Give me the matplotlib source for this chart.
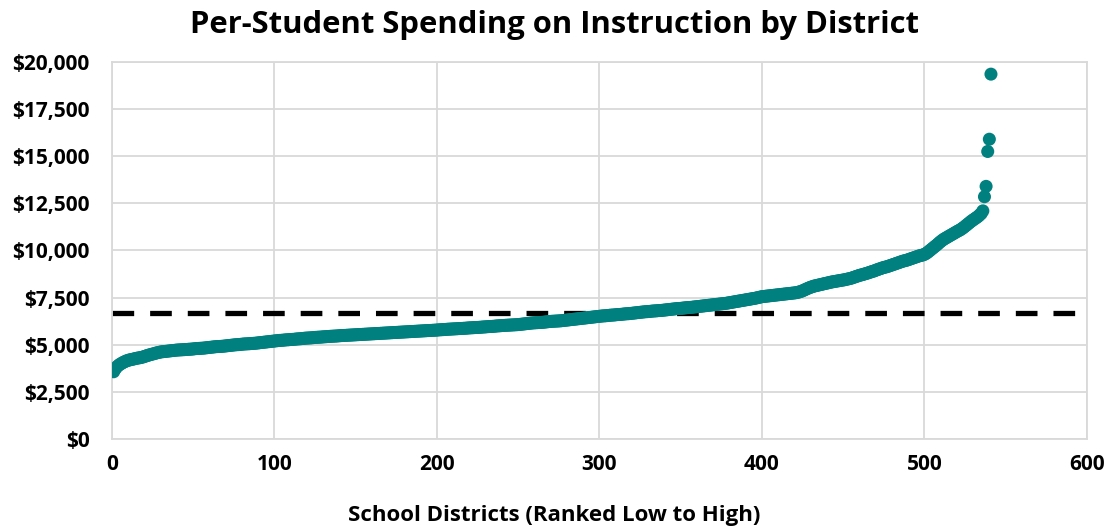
import numpy as np
import matplotlib
matplotlib.use("Agg")
import matplotlib.pyplot as plt
from matplotlib.ticker import FuncFormatter, MultipleLocator

# === データ（順位順の1人当たり教育支出） ===
spending = [
    3570, 3720, 3830, 3910, 3970, 4020, 4070, 4110, 4150, 4180,
    4200, 4220, 4240, 4260, 4280, 4300, 4310, 4330, 4350, 4380,
    4410, 4440, 4460, 4490, 4510, 4530, 4560, 4580, 4600, 4620,
    4630, 4640, 4650, 4660, 4670, 4680, 4690, 4700, 4710, 4720,
    4725, 4730, 4735, 4740, 4745, 4750, 4760, 4765, 4770, 4780,
    4790, 4800, 4805, 4810, 4815, 4820, 4830, 4840, 4850, 4860,
    4870, 4880, 4890, 4900, 4905, 4910, 4915, 4920, 4930, 4940,
    4950, 4960, 4970, 4980, 4990, 5000, 5005, 5010, 5020, 5030,
    5040, 5045, 5050, 5055, 5060, 5070, 5075, 5080, 5090, 5100,
    5110, 5120, 5130, 5140, 5150, 5160, 5170, 5180, 5190, 5200,
    5210, 5220, 5230, 5235, 5240, 5250, 5260, 5265, 5270, 5280,
    5285, 5290, 5300, 5310, 5315, 5320, 5330, 5340, 5350, 5355,
    5360, 5365, 5370, 5380, 5390, 5395, 5400, 5405, 5410, 5420,
    5425, 5430, 5440, 5445, 5450, 5455, 5460, 5465, 5470, 5480,
    5485, 5490, 5495, 5500, 5505, 5510, 5515, 5520, 5525, 5530,
    5535, 5540, 5545, 5550, 5555, 5560, 5565, 5570, 5575, 5580,
    5585, 5590, 5595, 5600, 5605, 5610, 5615, 5620, 5625, 5630,
    5635, 5640, 5645, 5650, 5655, 5660, 5665, 5670, 5675, 5680,
    5685, 5690, 5695, 5700, 5705, 5710, 5715, 5720, 5725, 5730,
    5735, 5740, 5745, 5750, 5755, 5760, 5765, 5770, 5775, 5780,
    5790, 5795, 5800, 5805, 5810, 5820, 5825, 5830, 5835, 5840,
    5845, 5850, 5855, 5860, 5865, 5870, 5875, 5880, 5890, 5895,
    5900, 5905, 5910, 5915, 5920, 5925, 5930, 5940, 5945, 5950,
    5960, 5965, 5970, 5975, 5980, 5990, 6000, 6005, 6010, 6020,
    6025, 6030, 6035, 6040, 6045, 6050, 6055, 6060, 6065, 6070,
    6080, 6090, 6100, 6110, 6120, 6130, 6140, 6150, 6160, 6165,
    6170, 6175, 6180, 6185, 6190, 6200, 6210, 6220, 6230, 6240,
    6245, 6250, 6255, 6260, 6265, 6270, 6280, 6290, 6300, 6310,
    6320, 6330, 6340, 6350, 6360, 6370, 6380, 6390, 6400, 6410,
    6420, 6430, 6440, 6450, 6460, 6470, 6480, 6490, 6500, 6510,
    6520, 6530, 6535, 6540, 6550, 6560, 6570, 6575, 6580, 6590,
    6600, 6605, 6610, 6620, 6630, 6640, 6645, 6650, 6660, 6670,
    6680, 6690, 6700, 6710, 6720, 6730, 6740, 6750, 6755, 6760,
    6770, 6780, 6790, 6795, 6800, 6810, 6815, 6820, 6830, 6840,
    6850, 6860, 6870, 6880, 6890, 6900, 6910, 6920, 6925, 6930,
    6940, 6950, 6960, 6970, 6975, 6980, 6990, 7000, 7010, 7020,
    7030, 7040, 7050, 7060, 7070, 7080, 7090, 7100, 7110, 7120,
    7130, 7140, 7150, 7160, 7170, 7180, 7190, 7200, 7215, 7230,
    7245, 7260, 7275, 7290, 7305, 7320, 7335, 7350, 7365, 7380,
    7395, 7410, 7425, 7440, 7455, 7470, 7490, 7510, 7530, 7550,
    7560, 7570, 7580, 7590, 7600, 7610, 7620, 7630, 7640, 7650,
    7660, 7670, 7680, 7690, 7700, 7710, 7720, 7730, 7740, 7750,
    7760, 7780, 7800, 7830, 7860, 7900, 7940, 7980, 8020, 8050,
    8080, 8110, 8130, 8150, 8170, 8190, 8210, 8230, 8250, 8270,
    8290, 8310, 8330, 8345, 8360, 8375, 8390, 8405, 8420, 8435,
    8450, 8470, 8490, 8510, 8530, 8560, 8590, 8620, 8650, 8680,
    8700, 8725, 8750, 8775, 8800, 8830, 8860, 8890, 8910, 8950,
    8980, 9010, 9040, 9070, 9100, 9120, 9140, 9170, 9200, 9230,
    9260, 9290, 9320, 9350, 9380, 9410, 9440, 9460, 9480, 9510,
    9540, 9570, 9600, 9630, 9660, 9690, 9720, 9740, 9760, 9790,
    9840, 9900, 9970, 10040, 10110, 10180, 10250, 10320, 10400, 10470,
    10540, 10600, 10650, 10700, 10750, 10800, 10850, 10900, 10950, 11000,
    11050, 11090, 11150, 11210, 11280, 11350, 11420, 11490, 11560, 11620,
    11680, 11740, 11800, 11880, 11960, 12100, 12850, 13400, 15250, 15900,
    19350,
]
district_rank = np.arange(1, len(spending) + 1)
state_average = 6670

title = "Per-Student Spending on Instruction by District"
x_label = "School Districts (Ranked Low to High)"

teal = "#00807F"
grid_gray = "#D9D9D9"

plt.rcParams["font.family"] = ["Open Sans", "DejaVu Sans"]
plt.rcParams["font.weight"] = "bold"
plt.rcParams["lines.scale_dashes"] = False

fig = plt.figure(figsize=(11.09, 5.29), dpi=100)
ax = fig.add_axes([0.101, 0.170, 0.879, 0.713])

# 平均ライン（破線）
ax.axhline(state_average, color="black", linewidth=3.8,
           linestyle=(0, (15.6, 11.5)), dash_capstyle="butt", zorder=2)

# 各学区の点
ax.scatter(district_rank, spending, s=88, color=teal, edgecolors="none", zorder=3)

ax.set_xlim(0, 600)
ax.set_ylim(0, 20000)
ax.xaxis.set_major_locator(MultipleLocator(100))
ax.yaxis.set_major_locator(MultipleLocator(2500))
ax.yaxis.set_major_formatter(FuncFormatter(lambda v, p: f"${v:,.0f}"))

ax.grid(True, color=grid_gray, linewidth=1.3, zorder=0)
ax.set_axisbelow(True)
for s in ax.spines.values():
    s.set_color(grid_gray)
    s.set_linewidth(1.3)

ax.tick_params(axis="both", length=0, labelsize=15)
ax.tick_params(axis="y", pad=16)
ax.tick_params(axis="x", pad=11)
for lbl in ax.get_xticklabels() + ax.get_yticklabels():
    lbl.set_fontweight("bold")

# タイトルと軸ラベル（位置は参照画像に合わせて手動配置）
fig.text(0.5, 0.953, title, fontsize=22.3, fontweight="bold", ha="center", va="center")
fig.text(0.5, 0.026, x_label, fontsize=16, fontweight="bold", ha="center", va="center")

fig.savefig("out.png", dpi=100)
